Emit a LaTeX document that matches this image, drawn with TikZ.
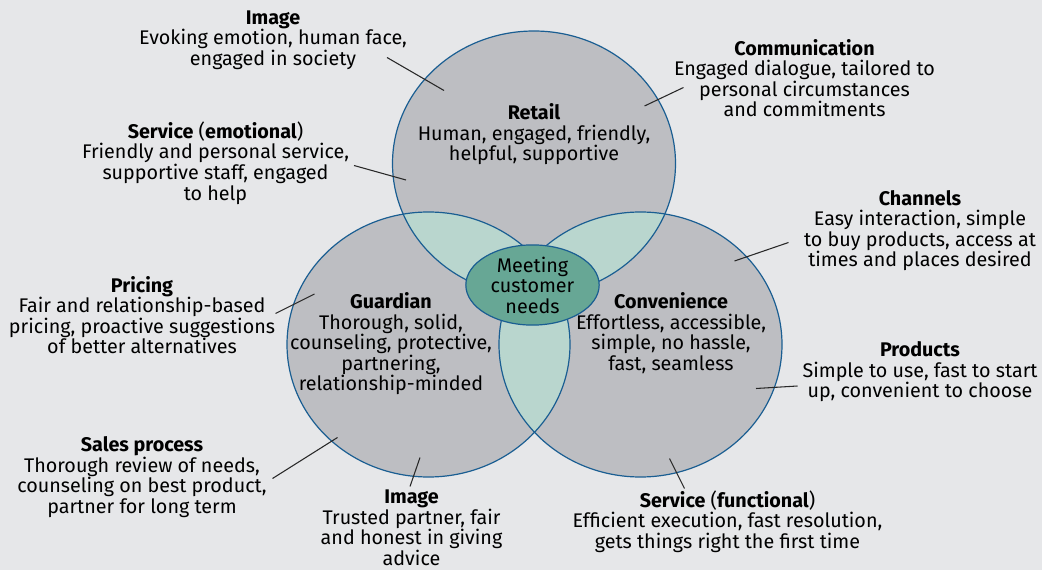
\documentclass[tikz,border=0pt]{standalone}
\usepackage{fontspec}
\setmainfont{Fira Sans}
\usetikzlibrary{shapes.geometric}
\definecolor{bgcol}{RGB}{230,231,233}
\definecolor{ringfill}{RGB}{189,190,194}
\definecolor{lensfill}{RGB}{185,214,206}
\definecolor{corefill}{RGB}{103,167,149}
\definecolor{ringline}{RGB}{26,94,146}
\definecolor{leadcol}{RGB}{40,40,40}

\begin{document}
\begin{tikzpicture}[x=0.75pt,y=0.75pt,yscale=-1,xscale=1,
  txt/.style={align=center,inner sep=0pt,text=black,font=\fontsize{14.8}{15.4}\selectfont},
  lead/.style={draw=leadcol,line width=0.8pt},
  ring/.style={draw=ringline,line width=0.9pt}]
    %set diagram to 1042 x 570
    \fill[bgcol] (0,0) rectangle (1042,570);
    \useasboundingbox (0,0) rectangle (1042,570);

    %Shape: Circles
    \fill[ringfill] (534,163.5) ellipse [x radius=141.5, y radius=132.5];
    \fill[ringfill] (428.5,344.5) ellipse [x radius=141.5, y radius=132.5];
    \fill[ringfill] (640.5,344.5) ellipse [x radius=141.5, y radius=132.5];
    %Shape: Overlaps
    \begin{scope}
      \clip (534,163.5) ellipse [x radius=141.5, y radius=132.5];
      \fill[lensfill] (428.5,344.5) ellipse [x radius=141.5, y radius=132.5];
      \fill[lensfill] (640.5,344.5) ellipse [x radius=141.5, y radius=132.5];
    \end{scope}
    \begin{scope}
      \clip (428.5,344.5) ellipse [x radius=141.5, y radius=132.5];
      \fill[lensfill] (640.5,344.5) ellipse [x radius=141.5, y radius=132.5];
    \end{scope}
    \draw[ring] (534,163.5) ellipse [x radius=141.5, y radius=132.5];
    \draw[ring] (428.5,344.5) ellipse [x radius=141.5, y radius=132.5];
    \draw[ring] (640.5,344.5) ellipse [x radius=141.5, y radius=132.5];

    %Shape: Core
    \node[ellipse,ring,fill=corefill,minimum width=100pt,minimum height=47.5pt,inner sep=0pt,txt] (needs) at (532.5,285) {Meeting\\customer\\needs};

    % Text Node
    \node[txt] (retail) at (534,134.5) {\textbf{Retail}\\Human, engaged, friendly,\\helpful, supportive};
    % Text Node
    \node[txt] (guardian) at (391,344) {\textbf{Guardian}\\Thorough, solid,\\counseling, protective,\\partnering,\\relationship-minded};
    % Text Node
    \node[txt] (conv) at (671,333) {\textbf{Convenience}\\Effortless, accessible,\\simple, no hassle,\\fast, seamless};

    % Text Node
    \node[txt] (imgtop) at (273,40) {\textbf{Image}\\Evoking emotion, human face,\\engaged in society};
    % Text Node
    \node[txt] (servemo) at (215.5,163) {\textbf{Service} (\textbf{emotional})\\Friendly and personal service,\\supportive staff, engaged\\to help};
    % Text Node
    \node[txt] (comm) at (804.5,78) {\textbf{Communication}\\Engaged dialogue, tailored to\\personal circumstances\\and commitments};
    % Text Node
    \node[txt] (channels) at (920,230.5) {\textbf{Channels}\\Easy interaction, simple\\to buy products, access at\\times and places desired};
    % Text Node
    \node[txt] (pricing) at (142,315) {\textbf{Pricing}\\Fair and relationship-based\\pricing, proactive suggestions\\of better alternatives};
    % Text Node
    \node[txt] (sales) at (142,477) {\textbf{Sales process}\\Thorough review of needs,\\counseling on best product,\\partner for long term};
    % Text Node
    \node[txt] (imgbot) at (411.5,528) {\textbf{Image}\\Trusted partner, fair\\and honest in giving\\advice};
    % Text Node
    \node[txt] (products) at (920,372) {\textbf{Products}\\Simple to use, fast to start\\up, convenient to choose};
    % Text Node
    \node[txt] (servfun) at (727.5,521.7) {\textbf{Service} (\textbf{functional})\\Efficient execution, fast resolution,\\gets things right the first time};

    %Leader lines
    \coordinate (imgtopA) at (387,57.5);   \coordinate (imgtopB) at (444,90.5);
    \coordinate (servemoA) at (354,165.5); \coordinate (servemoB) at (406,180);
    \coordinate (commA) at (683.5,87.5);   \coordinate (commB) at (644.5,106);
    \coordinate (channelsA) at (788.5,242.5); \coordinate (channelsB) at (734.5,261);
    \coordinate (pricingA) at (275.5,313.5);  \coordinate (pricingB) at (314.5,294);
    \coordinate (salesA) at (272.5,478.5); \coordinate (salesB) at (337.5,437.5);
    \coordinate (imgbotA) at (410,486.5);  \coordinate (imgbotB) at (420,457.5);
    \coordinate (productsA) at (797.5,386); \coordinate (productsB) at (756,388.5);
    \coordinate (servfunA) at (684.5,488.5); \coordinate (servfunB) at (669.5,458.5);
    \draw[lead] (imgtopA) -- (imgtopB);
    \draw[lead] (servemoA) -- (servemoB);
    \draw[lead] (commA) -- (commB);
    \draw[lead] (channelsA) -- (channelsB);
    \draw[lead] (pricingA) -- (pricingB);
    \draw[lead] (salesA) -- (salesB);
    \draw[lead] (imgbotA) -- (imgbotB);
    \draw[lead] (productsA) -- (productsB);
    \draw[lead] (servfunA) -- (servfunB);

\end{tikzpicture}
\end{document}
